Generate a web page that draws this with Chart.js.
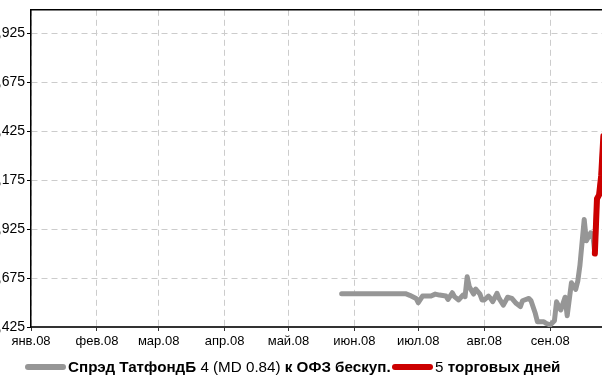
<!DOCTYPE html>
<html><head><meta charset="utf-8">
<script src="https://cdn.jsdelivr.net/npm/chart.js@4.4.1/dist/chart.umd.min.js"></script>
<style>
html,body{margin:0;padding:0;background:#fff;}
#wrap{position:relative;width:602px;height:376px;overflow:hidden;}
#c{position:absolute;left:-40px;top:-20px;}
#legend{position:absolute;left:0;top:358px;width:602px;height:18px;font-family:"Liberation Sans Narrow","Liberation Sans",Arial,sans-serif;font-size:15.2px;line-height:18px;white-space:nowrap;color:#000;}
.item{position:absolute;top:0;}
.sw{display:inline-block;width:41px;height:6px;border-radius:3px;vertical-align:middle;margin-right:2px;position:relative;top:-1px;}
</style></head><body>
<div id="wrap"><canvas id="c" width="700" height="396" style="width:700px;height:396px"></canvas>
<div id="legend"></div></div>
<script>
// Days counted from 1 Jan 2008
const monthTickDays = [0, 31, 60, 91, 121, 152, 182, 213, 244];
const monthLabels = ['янв.08','фев.08','мар.08','апр.08','май.08','июн.08','июл.08','авг.08','сен.08'];
const yTickValues = [0.425, 0.675, 0.925, 1.175, 1.425, 1.675, 1.925];

const spreadDays = [146,152,158,164,170,176,178,181,182,184,186,188,190,192,195,196,198,199,201,203,204,205,206,208,209,211,212,213,215,216,217,219,220,222,224,226,228,230,231,234,235,237,238,241,242,244,246,247,248,249,251,252,254,256,257,258,260,261,263,264,265,266,267,268,269];
const spreadValues = [0.595,0.595,0.595,0.595,0.595,0.595,0.587,0.571,0.549,0.583,0.583,0.583,0.593,0.588,0.583,0.566,0.600,0.580,0.563,0.588,0.580,0.682,0.631,0.593,0.619,0.593,0.563,0.563,0.583,0.571,0.554,0.597,0.571,0.537,0.577,0.571,0.546,0.529,0.559,0.571,0.559,0.495,0.452,0.452,0.444,0.435,0.457,0.554,0.532,0.512,0.577,0.483,0.651,0.617,0.661,0.741,0.974,0.865,0.906,0.899,0.80,1.08,1.10,1.20,1.40];
const last5Days = [265,266,267,268,269];
const last5Values = [0.80,1.08,1.10,1.20,1.40];

const legendParts = [
  {color:'#969696', parts:[['Спрэд ТатфондБ',true],[' 4 (MD 0.84) ',false],['к ОФЗ бескуп.',true]]},
  {color:'#cc0000', parts:[['5',false],[' торговых дней',true]]}
];
const titleText = 'Кредитный спрэд';

const FONT = '"Liberation Sans Narrow","Liberation Sans",Arial,sans-serif';

const ds1 = spreadDays.map((d,i)=>({x:d,y:spreadValues[i]}));
const ds2 = last5Days.map((d,i)=>({x:d,y:last5Values[i]}));

new Chart(document.getElementById('c'), {
  type:'line',
  data:{datasets:[
    {label:'spread5', data:ds2, borderColor:'#cc0000', borderWidth:6, pointRadius:0, borderJoinStyle:'round', borderCapStyle:'round', order:0},
    {label:'spread', data:ds1, borderColor:'#969696', borderWidth:5, pointRadius:0, borderJoinStyle:'round', borderCapStyle:'round', order:1}
  ]},
  options:{
    responsive:false, animation:false,
    layout:{padding:{left:0,right:46,top:0,bottom:19}},
    plugins:{
      legend:{display:false}, tooltip:{enabled:false},
      title:{display:true, text:titleText, color:'#000', font:{family:FONT,size:14,weight:'bold'}, padding:{top:4.5,bottom:8.5}}
    },
    scales:{
      x:{type:'linear', position:'bottom', min:0, max:274,
        afterBuildTicks:(s)=>{s.ticks = monthTickDays.map(v=>({value:v}));},
        afterFit:(s)=>{s.height=30;},
        ticks:{autoSkip:false, maxRotation:0, padding:3, color:'#000', font:{family:FONT,size:13},
          callback:(v)=>{const i=monthTickDays.indexOf(v); return i>=0?monthLabels[i]:'';}},
        grid:{color:'#cccccc', tickLength:4, tickColor:'#333', tickBorderDash:[]},
        border:{display:true, color:'#333', width:2, dash:[6,4]}
      },
      x2:{type:'linear', position:'top', min:0, max:274, display:true,
        ticks:{display:false}, grid:{display:false, drawTicks:false},
        afterFit:(s)=>{s.height=0;},
        border:{display:true, color:'#000', width:1.5}
      },
      y:{type:'linear', position:'left', min:0.425, max:2.045,
        afterBuildTicks:(s)=>{s.ticks = yTickValues.map(v=>({value:v}));},
        afterFit:(s)=>{s.width=71;},
        ticks:{padding:2, color:'#000', font:{family:FONT,size:14},
          callback:(v)=>v.toFixed(3).replace('.',',')},
        grid:{color:'#cccccc', tickLength:4, tickColor:'#000', tickBorderDash:[]},
        border:{display:true, color:'#000', width:1.5, dash:[6,4]}
      }
    }
  }
});

// HTML legend (mixed bold/normal text)
const lg = document.getElementById('legend');
const lefts = [25, 392];
legendParts.forEach((it,k)=>{
  const d = document.createElement('div'); d.className='item'; d.style.left=lefts[k]+'px';
  const sw = document.createElement('span'); sw.className='sw'; sw.style.background=it.color; d.appendChild(sw);
  it.parts.forEach(([t,b])=>{const s=document.createElement('span'); s.textContent=t; if(b) s.style.fontWeight='bold'; d.appendChild(s);});
  lg.appendChild(d);
});
</script>
</body></html>
